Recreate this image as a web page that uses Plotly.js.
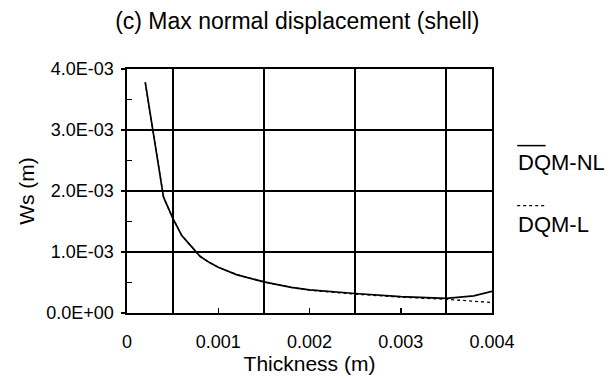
<!DOCTYPE html>
<html>
<head>
<meta charset="utf-8">
<script src="https://cdn.plot.ly/plotly-3.0.1.min.js"></script>
<style>html,body{margin:0;padding:0;background:#fff;}#chart{width:613px;height:379px;}</style>
</head>
<body>
<div id="chart"></div>
<script>
// Data
var thickness = [0.0002, 0.0004, 0.0005, 0.0006, 0.0007, 0.0008, 0.0009, 0.0010, 0.0012, 0.0015, 0.0018, 0.0020, 0.0025, 0.0030, 0.0035, 0.0038, 0.0040];
var wsNL      = [3.78e-3, 1.90e-3, 1.56e-3, 1.27e-3, 1.10e-3, 0.93e-3, 0.83e-3, 0.75e-3, 0.63e-3, 0.51e-3, 0.42e-3, 0.38e-3, 0.32e-3, 0.27e-3, 0.24e-3, 0.28e-3, 0.355e-3];
var wsL       = [3.78e-3, 1.90e-3, 1.56e-3, 1.27e-3, 1.10e-3, 0.93e-3, 0.83e-3, 0.75e-3, 0.63e-3, 0.51e-3, 0.42e-3, 0.375e-3, 0.31e-3, 0.26e-3, 0.225e-3, 0.195e-3, 0.172e-3];
var seriesNames = ["DQM-NL", "DQM-L"];
var xTickVals = [0, 0.001, 0.002, 0.003, 0.004];
var xTickText = ["0", "0.001", "0.002", "0.003", "0.004"];
var yTickVals = [0, 1e-3, 2e-3, 3e-3, 4e-3];
var yTickText = ["0.0E+00", "1.0E-03", "2.0E-03", "3.0E-03", "4.0E-03"];

var FONT = "Liberation Sans, Arial, sans-serif";

var traces = [
  {x: thickness, y: wsL, name: seriesNames[1], mode: "lines", line: {color: "#000", width: 1.3, dash: "dot"}, showlegend: false},
  {x: thickness, y: wsNL, name: seriesNames[0], mode: "lines", line: {color: "#000", width: 1.7}, showlegend: false}
];

var layout = {
  width: 613, height: 379,
  margin: {l: 127, r: 121, t: 69, b: 66, pad: 0},
  paper_bgcolor: "#fff", plot_bgcolor: "#fff",
  font: {family: FONT, color: "#000"},
  title: {text: "(c) Max normal displacement (shell)", font: {family: FONT, size: 23, color: "#000"}, x: 0.485, xanchor: "center", y: 0.945, yanchor: "middle"},
  xaxis: {
    range: [0, 0.004], tickmode: "array", tickvals: xTickVals, ticktext: xTickText,
    showgrid: false, zeroline: false, showline: true, mirror: true, linecolor: "#000", linewidth: 1.6,
    ticks: "inside", ticklen: 5, tickwidth: 1.5, tickcolor: "#000",
    ticklabelstandoff: 12,
    tickfont: {family: FONT, size: 18, color: "#000"},
    minor: {tick0: 0.0005, dtick: 0.001, showgrid: true, gridcolor: "#000", gridwidth: 2, ticks: ""},
    title: {text: "Thickness (m)", font: {family: FONT, size: 21, color: "#000"}, standoff: 0},
    fixedrange: true
  },
  yaxis: {
    range: [0, 4e-3], tickmode: "array", tickvals: yTickVals, ticktext: yTickText,
    showgrid: true, gridcolor: "#000", gridwidth: 2, zeroline: false,
    showline: true, mirror: true, linecolor: "#000", linewidth: 1.6,
    ticks: "outside", ticklen: 4, tickwidth: 1.5, tickcolor: "#000",
    ticklabelstandoff: 4,
    tickfont: {family: FONT, size: 18, color: "#000"},
    minor: {tick0: 0.0005, dtick: 0.001, ticks: "inside", ticklen: 5, tickwidth: 1.5, tickcolor: "#000", showgrid: false},
    title: {text: "Ws (m)", font: {family: FONT, size: 21, color: "#000"}, standoff: 6},
    fixedrange: true
  },
  shapes: [
    {type: "line", xref: "paper", yref: "paper", x0: 1.069, x1: 1.147, y0: 0.686, y1: 0.686, line: {color: "#000", width: 1.5}},
    {type: "line", xref: "paper", yref: "paper", x0: 1.069, x1: 1.147, y0: 0.440, y1: 0.440, line: {color: "#000", width: 1.3, dash: "dot"}}
  ],
  annotations: [
    {xref: "paper", yref: "paper", x: 1.066, y: 0.615, xanchor: "left", yanchor: "middle", text: seriesNames[0], showarrow: false, font: {family: FONT, size: 22, color: "#000"}},
    {xref: "paper", yref: "paper", x: 1.066, y: 0.362, xanchor: "left", yanchor: "middle", text: seriesNames[1], showarrow: false, font: {family: FONT, size: 22, color: "#000"}}
  ]
};

Plotly.newPlot("chart", traces, layout, {displayModeBar: false, staticPlot: true});
</script>
</body>
</html>
